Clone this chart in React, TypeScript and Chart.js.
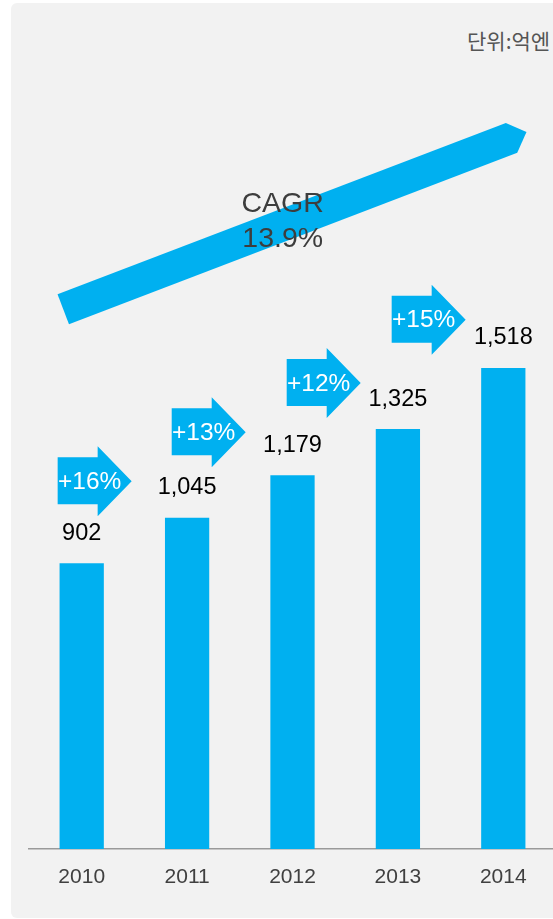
import React, { useEffect, useRef } from "react";
import { Chart, registerables } from "chart.js";

Chart.register(...registerables);

const categories = ["2010", "2011", "2012", "2013", "2014"];
const values = [902, 1045, 1179, 1325, 1518];
const valueLabels = ["902", "1,045", "1,179", "1,325", "1,518"];
const growthLabels = ["+16%", "+13%", "+12%", "+15%"];
// arrow tip anchors in data units (category index, value)
const growthTipX = [0.474, 1.556, 2.647, 3.643];
const growthTipY = [1160, 1315, 1470, 1670];
const cagrLines = ["CAGR", "13.9%"];
const cagrStart = [-0.175, 1703];
const cagrEnd = [4.22, 2262];
const cagrTextX = 1.907;
const unitText = "단위:억엔";
const yMax = 2600;

const BLUE = "#00b0f0";
const FONT = "'Liberation Sans', Arial, Helvetica, sans-serif";

const annotations = {
  id: "annotations",
  afterDatasetsDraw(chart: any) {
    const { ctx, scales } = chart;
    const xs = scales.x;
    const ys = scales.y;
    const meta = chart.getDatasetMeta(0);
    ctx.save();

    // CAGR band arrow
    const x0 = xs.getPixelForValue(cagrStart[0]);
    const y0 = ys.getPixelForValue(cagrStart[1]);
    const x1 = xs.getPixelForValue(cagrEnd[0]);
    const y1 = ys.getPixelForValue(cagrEnd[1]);
    const len = Math.hypot(x1 - x0, y1 - y0);
    const ux = (x1 - x0) / len;
    const uy = (y1 - y0) / len;
    const px = -uy;
    const py = ux;
    const half = 16;
    const head = 16;
    const bx = x1 - ux * head;
    const by = y1 - uy * head;
    ctx.fillStyle = BLUE;
    ctx.beginPath();
    ctx.moveTo(x0 + px * half, y0 + py * half);
    ctx.lineTo(x0 - px * half, y0 - py * half);
    ctx.lineTo(bx - px * half, by - py * half);
    ctx.lineTo(x1, y1);
    ctx.lineTo(bx + px * half, by + py * half);
    ctx.closePath();
    ctx.fill();

    // CAGR text
    const tx = xs.getPixelForValue(cagrTextX);
    const t = (tx - x0) / (x1 - x0);
    const ty = y0 + (y1 - y0) * t - 4;
    ctx.fillStyle = "#3d3d3d";
    ctx.font = `28.5px ${FONT}`;
    ctx.textAlign = "center";
    ctx.textBaseline = "middle";
    ctx.fillText(cagrLines[0], tx, ty - 17);
    ctx.fillText(cagrLines[1], tx, ty + 18);

    // growth arrows
    growthLabels.forEach((lab, i) => {
      const gx = xs.getPixelForValue(growthTipX[i]);
      const gy = ys.getPixelForValue(growthTipY[i]);
      const left = gx - 74;
      const neck = gx - 34;
      ctx.fillStyle = BLUE;
      ctx.beginPath();
      ctx.moveTo(left, gy - 24);
      ctx.lineTo(neck, gy - 24);
      ctx.lineTo(neck, gy - 35);
      ctx.lineTo(gx, gy);
      ctx.lineTo(neck, gy + 35);
      ctx.lineTo(neck, gy + 23);
      ctx.lineTo(left, gy + 23);
      ctx.closePath();
      ctx.fill();
      ctx.fillStyle = "#ffffff";
      ctx.font = `24.5px ${FONT}`;
      ctx.textAlign = "center";
      ctx.textBaseline = "middle";
      ctx.fillText(lab, left + 32, gy + 1);
    });

    // value labels
    ctx.fillStyle = "#000000";
    ctx.font = `23.5px ${FONT}`;
    ctx.textAlign = "center";
    ctx.textBaseline = "middle";
    meta.data.forEach((bar: any, i: number) => {
      ctx.fillText(valueLabels[i], bar.x, bar.y - 30);
    });
    ctx.restore();
  },
};

export default function App() {
  const ref = useRef<HTMLCanvasElement>(null);
  useEffect(() => {
    if (!ref.current) return;
    const chart = new Chart(ref.current, {
      type: "bar",
      data: {
        labels: categories,
        datasets: [
          {
            data: values,
            backgroundColor: BLUE,
            borderWidth: 0,
            barPercentage: 0.42,
            categoryPercentage: 1,
          },
        ],
      },
      options: {
        responsive: false,
        animation: false,
        events: [],
        layout: { padding: { left: 29, right: 24, top: 25, bottom: 0 } },
        plugins: { legend: { display: false }, tooltip: { enabled: false } },
        scales: {
          x: {
            grid: { display: false },
            border: { display: true, color: "#9a9a9a", width: 1.5 },
            ticks: {
              color: "#404040",
              padding: 8,
              font: { family: FONT, size: 21 },
            },
            afterFit(scale: any) {
              scale.height = 70;
            },
          },
          y: {
            display: false,
            min: 0,
            max: yMax,
          },
        },
      },
      plugins: [annotations],
    });
    return () => chart.destroy();
  }, []);

  return (
    <div
      style={{
        position: "fixed",
        left: 0,
        top: 0,
        width: 553,
        height: 919,
        overflow: "hidden",
        background: "#ffffff",
      }}
    >
      <div
        style={{
          position: "absolute",
          left: 11,
          top: 3,
          width: 560,
          height: 915,
          background: "#f2f2f2",
          borderRadius: 6,
        }}
      />
      <div
        style={{
          position: "absolute",
          left: 467,
          top: 26,
          whiteSpace: "nowrap",
          fontFamily: "'Noto Sans CJK KR', sans-serif",
          fontSize: 21,
          lineHeight: "28px",
          color: "#555555",
        }}
      >
        {unitText}
      </div>
      <canvas
        ref={ref}
        width={580}
        height={919}
        style={{ position: "absolute", left: 0, top: 0 }}
      />
    </div>
  );
}
